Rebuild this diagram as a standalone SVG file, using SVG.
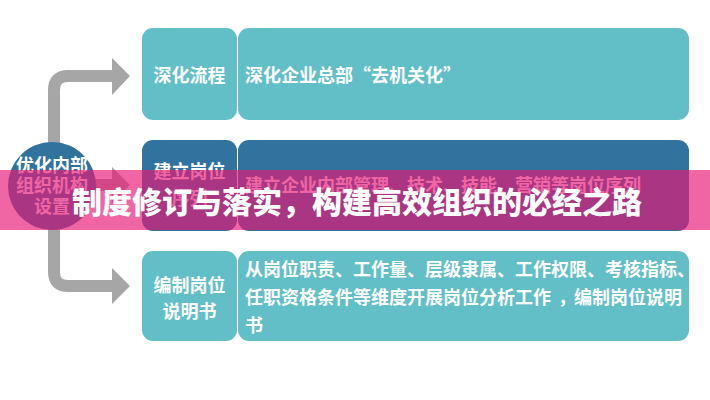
<svg xmlns="http://www.w3.org/2000/svg" width="710" height="400" viewBox="0 0 710 400">
<style>
.teal{fill:#62bec7}
.blue{fill:#32729f}
.t{font-family:"Noto Sans CJK SC","Noto Sans",sans-serif;font-weight:bold;fill:#ffffff;font-size:18px}
.c{text-anchor:middle}
.bar{fill:none;stroke:#a6a6a6;stroke-width:12}
.head{fill:#a6a6a6}
</style>
<rect width="710" height="400" fill="#ffffff"/>
<g id="connectors">
<path class="bar" d="M54,146 V90 Q54,76 68,76 H113"/>
<polygon class="head" points="112,58 130,76 112,95"/>
<path class="bar" d="M54,226 V272 Q54,286 68,286 H113"/>
<polygon class="head" points="112,268 130,286 112,304"/>
<path class="bar" d="M92,185 H113"/>
<polygon class="head" points="112,167 130,185 112,203"/>
</g>
<g id="node-center">
<circle cx="52" cy="186" r="44" class="blue"/>
<text class="t c" x="52" y="172">优化内部</text>
<text class="t c" x="52" y="192">组织机构</text>
<text class="t c" x="52" y="213">设置</text>
</g>
<g id="node-1">
<rect class="teal" x="142" y="28" width="95" height="92" rx="11"/>
<rect class="teal" x="238" y="28" width="451" height="92" rx="11"/>
<text class="t c" x="189.5" y="82">深化流程</text>
<text class="t" x="245" y="82">深化企业总部“去机关化”</text>
</g>
<g id="node-2">
<rect class="blue" x="142" y="140" width="95" height="91" rx="11"/>
<rect class="blue" x="238" y="140" width="451" height="91" rx="11"/>
<text class="t c" x="189.5" y="178">建立岗位</text>
<text class="t c" x="189.5" y="205">序列</text>
<text class="t" x="245" y="192">建立企业内部管理、技术、技能、营销等岗位序列</text>
</g>
<g id="node-3">
<rect class="teal" x="142" y="251" width="95" height="90" rx="11"/>
<rect class="teal" x="238" y="251" width="451" height="90" rx="11"/>
<text class="t c" x="189.5" y="292">编制岗位</text>
<text class="t c" x="189.5" y="318">说明书</text>
<text class="t" x="245" y="276">从岗位职责、工作量、层级隶属、工作权限、考核指标、</text>
<text class="t" x="245" y="304">任职资格条件等维度开展岗位分析工作<tspan dx="7">，</tspan><tspan dx="-2">编制岗位说明</tspan></text>
<text class="t" x="245" y="332">书</text>
</g>
<g id="banner">
<rect x="0" y="170" width="710" height="60" fill="rgb(232,22,115)" fill-opacity="0.66"/>
<text x="72" y="213" font-family="'Noto Sans CJK SC',sans-serif" font-weight="900" font-size="30" fill="#ffffff">制度修订与落实，构建高效组织的必经之路</text>
</g>
</svg>
